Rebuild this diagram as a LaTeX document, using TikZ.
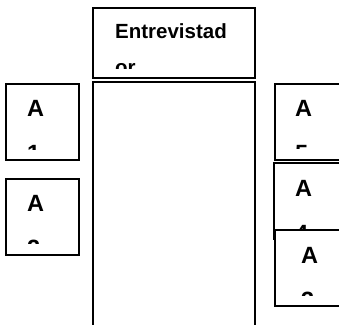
\documentclass[tikz,border=0pt]{standalone}
\usepackage{fontspec}
\setmainfont{Liberation Sans}
\usetikzlibrary{positioning}

\begin{document}
\begin{tikzpicture}[x=1pt, y=-1pt,
  box/.style={draw, line width=1.6pt, fill=white, inner sep=0pt, anchor=north west},
  abox/.style={box, minimum width=73pt, minimum height=76pt},
  lbl/.style={inner sep=0pt, anchor=base west, align=left,
    font=\bfseries\fontsize{23.5}{45}\selectfont},
  toplbl/.style={lbl, font=\bfseries\fontsize{20.5}{36}\selectfont}]
\useasboundingbox (0,0) rectangle (339,324);
% Interviewer box (text cut off at the bottom)
\node[box, minimum width=162pt, minimum height=70pt] (entr) at (92,7) {};
\begin{scope}
  \clip (92,7) rectangle (254,68);
  \node[toplbl] (entrtxt) at (115,74) {Entrevistad\\or};
\end{scope}
% Middle column
\node[box, minimum width=162pt, minimum height=280pt] (mid) at (92,81) {};
% Left boxes
\node[abox] (a1) at (5,83) {};
\begin{scope}
  \clip (5,83) rectangle (78,149);
  \node[lbl] (a1txt) at (27,161) {A\\1};
\end{scope}
\node[abox] (a2) at (5,178) {};
\begin{scope}
  \clip (5,178) rectangle (78,243);
  \node[lbl] (a2txt) at (27,256) {A\\2};
\end{scope}
% Right boxes
\node[abox] (a5) at (274,83) {};
\begin{scope}
  \clip (274,83) rectangle (347,148);
  \node[lbl] (a5txt) at (295,161) {A\\5};
\end{scope}
\node[abox] (a4) at (273,162) {};
\begin{scope}
  \clip (273,162) rectangle (346,236);
  \node[lbl] (a4txt) at (295,241) {A\\4};
\end{scope}
\node[abox] (a3) at (274,229) {};
\begin{scope}
  \clip (274,229) rectangle (347,295);
  \node[lbl] (a3txt) at (301,308) {A\\3};
\end{scope}
\end{tikzpicture}
\end{document}
